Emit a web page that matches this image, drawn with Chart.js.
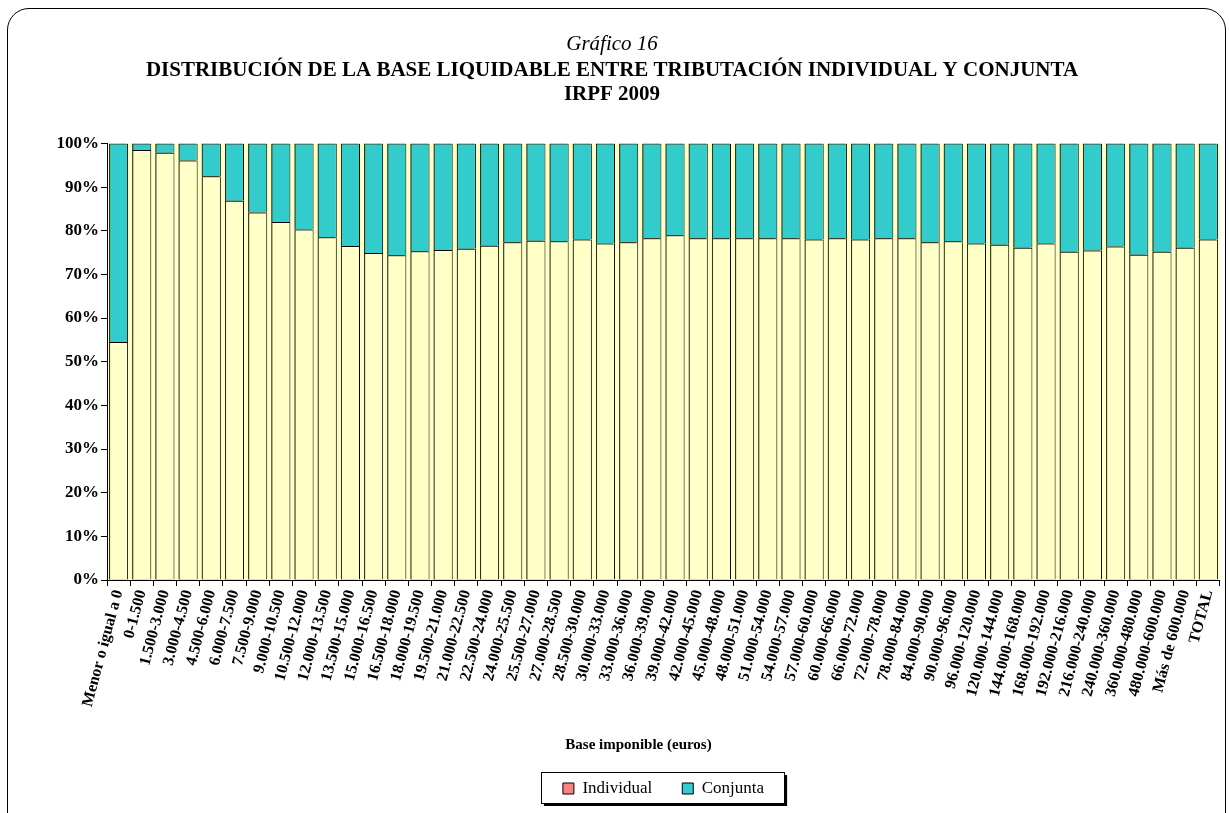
<!DOCTYPE html>
<html>
<head>
<meta charset="utf-8">
<script src="https://cdn.jsdelivr.net/npm/chart.js@4"></script>
<style>
  body { margin: 0; background: #fff; }
  #wrap { position: relative; width: 1229px; height: 813px; overflow: hidden; }
  #frame {
    position: absolute; left: 7px; top: 8px; width: 1219px; height: 840px;
    box-sizing: border-box; border: 1px solid #000; border-radius: 22px;
  }
  #box { position: absolute; left: 0; top: 0; width: 1229px; height: 813px; }
</style>
</head>
<body>
<div id="wrap">
  <div id="frame"></div>
  <div id="box"><canvas id="myChart"></canvas></div>
</div>
<script>
// Tramos de base imponible (euros)
const tramos = [
  "Menor o igual a 0", "0-1.500", "1.500-3.000", "3.000-4.500", "4.500-6.000",
  "6.000-7.500", "7.500-9.000", "9.000-10.500", "10.500-12.000", "12.000-13.500",
  "13.500-15.000", "15.000-16.500", "16.500-18.000", "18.000-19.500", "19.500-21.000",
  "21.000-22.500", "22.500-24.000", "24.000-25.500", "25.500-27.000", "27.000-28.500",
  "28.500-30.000", "30.000-33.000", "33.000-36.000", "36.000-39.000", "39.000-42.000",
  "42.000-45.000", "45.000-48.000", "48.000-51.000", "51.000-54.000", "54.000-57.000",
  "57.000-60.000", "60.000-66.000", "66.000-72.000", "72.000-78.000", "78.000-84.000",
  "84.000-90.000", "90.000-96.000", "96.000-120.000", "120.000-144.000", "144.000-168.000",
  "168.000-192.000", "192.000-216.000", "216.000-240.000", "240.000-360.000", "360.000-480.000",
  "480.000-600.000", "Más de 600.000", "TOTAL"
];

// % de la base liquidable en tributación individual
const individual = [
  54.5, 98.5, 97.9, 96.1, 92.5, 86.9, 84.2, 82.0, 80.3, 78.5,
  76.5, 74.9, 74.4, 75.3, 75.6, 75.9, 76.6, 77.4, 77.7, 77.6,
  78.0, 77.1, 77.4, 78.3, 79.0, 78.3, 78.3, 78.3, 78.3, 78.3,
  78.0, 78.3, 78.0, 78.3, 78.3, 77.4, 77.6, 77.1, 76.8, 76.1,
  77.1, 75.2, 75.5, 76.4, 74.5, 75.2, 76.1, 78.0
];

// % en tributación conjunta
const conjunta = [
  45.5, 1.5, 2.1, 3.9, 7.5, 13.1, 15.8, 18.0, 19.7, 21.5,
  23.5, 25.1, 25.6, 24.7, 24.4, 24.1, 23.4, 22.6, 22.3, 22.4,
  22.0, 22.9, 22.6, 21.7, 21.0, 21.7, 21.7, 21.7, 21.7, 21.7,
  22.0, 21.7, 22.0, 21.7, 21.7, 22.6, 22.4, 22.9, 23.2, 23.9,
  22.9, 24.8, 24.5, 23.6, 25.5, 24.8, 23.9, 22.0
];

const yTicks = [0, 10, 20, 30, 40, 50, 60, 70, 80, 90, 100];
const xTitle = "Base imponible (euros)";

Chart.defaults.font.family = "'Liberation Serif', 'Times New Roman', serif";
Chart.defaults.color = "#000";

// fondo del area de trazado, sombra de las barras, titulo del eje y recuadro de la leyenda
const decor = {
  id: "decor",
  afterLayout(chart) {
    // la leyenda va centrada bajo el area de trazado, no bajo todo el lienzo
    const lg = chart.legend;
    const a = chart.chartArea;
    const shift = (a.left + a.right) / 2 - (lg.left + lg.right) / 2;
    lg.left += shift;
    lg.right += shift;
    lg.legendHitBoxes.forEach((b) => { b.left += shift; });
  },
  beforeDraw(chart) {
    const { ctx, chartArea: a } = chart;
    ctx.save();
    ctx.fillStyle = "#FFFFC8";
    ctx.fillRect(a.left, a.top, a.right - a.left, a.bottom - a.top);

    const boxes = chart.legend.legendHitBoxes;
    if (boxes && boxes.length) {
      const l = Math.min(...boxes.map((b) => b.left)) - 22;
      const r = Math.max(...boxes.map((b) => b.left + b.width)) + 20;
      const t = boxes[0].top - 8;
      const h = boxes[0].height + 14;
      ctx.fillStyle = "#000";
      ctx.fillRect(l + 3, t + 3, r - l, h);
      ctx.fillStyle = "#fff";
      ctx.fillRect(l, t, r - l, h);
      ctx.strokeStyle = "#000";
      ctx.lineWidth = 1;
      ctx.strokeRect(Math.round(l) + 0.5, Math.round(t) + 0.5, Math.round(r - l), Math.round(h));
    }
    ctx.restore();
  },
  beforeDatasetsDraw(chart) {
    const ctx = chart.ctx;
    ctx.save();
    ctx.shadowColor = "rgba(50,50,20,0.9)";
    ctx.shadowOffsetX = -2;
    ctx.shadowOffsetY = 0;
    ctx.shadowBlur = 0;
  },
  afterDatasetsDraw(chart) {
    chart.ctx.restore();
  },
  afterDraw(chart) {
    // titulo del eje X, algo a la izquierda del centro como en el original
    const { ctx, chartArea: a, scales } = chart;
    ctx.save();
    ctx.font = "bold 15px 'Liberation Serif', 'Times New Roman', serif";
    ctx.fillStyle = "#000";
    ctx.textAlign = "center";
    ctx.textBaseline = "middle";
    ctx.fillText(xTitle, (a.left + a.right) / 2 - 25, scales.x.bottom - 5);
    ctx.restore();
  }
};

const ctx = document.getElementById("myChart").getContext("2d");
const myChart = new Chart(ctx, {
  type: "bar",
  data: {
    labels: tramos,
    datasets: [
      {
        label: "Individual",
        data: individual,
        backgroundColor: "#FFFFC8",
        borderColor: "#000",
        borderWidth: 1,
        barPercentage: 0.82,
        categoryPercentage: 1.0
      },
      {
        label: "Conjunta",
        data: conjunta,
        backgroundColor: "#33CCCC",
        borderColor: "#000",
        borderWidth: 1,
        barPercentage: 0.82,
        categoryPercentage: 1.0
      }
    ]
  },
  options: {
    responsive: true,
    maintainAspectRatio: false,
    animation: false,
    layout: { padding: { left: 0, right: 5, top: 0, bottom: 6 } },
    plugins: {
      title: {
        display: true,
        text: "Gráfico 16",
        font: { size: 21, style: "italic", weight: "normal", lineHeight: 1.2 },
        padding: { top: 32, bottom: 1 }
      },
      subtitle: {
        display: true,
        text: [
          "DISTRIBUCIÓN DE LA BASE LIQUIDABLE ENTRE TRIBUTACIÓN INDIVIDUAL Y CONJUNTA",
          "IRPF 2009"
        ],
        color: "#000",
        font: { size: 21, weight: "bold", lineHeight: 1.15 },
        padding: { top: 0, bottom: 37 }
      },
      legend: {
        position: "bottom",
        labels: {
          font: { size: 17 },
          boxWidth: 11,
          boxHeight: 11,
          padding: 30,
          generateLabels: () => [
            { text: "Individual", fillStyle: "#FF8080", strokeStyle: "#000", lineWidth: 1, datasetIndex: 0, hidden: false },
            { text: "Conjunta", fillStyle: "#33CCCC", strokeStyle: "#000", lineWidth: 1, datasetIndex: 1, hidden: false }
          ]
        }
      },
      tooltip: { enabled: false }
    },
    scales: {
      x: {
        stacked: true,
        afterFit: (scale) => { scale.height = 170; },
        grid: { display: true, drawOnChartArea: false, offset: true, tickLength: 6, color: "#000" },
        border: { display: true, color: "#000" },
        ticks: {
          autoSkip: false,
          minRotation: 75,
          maxRotation: 75,
          padding: 2,
          font: { size: 16, weight: "bold" }
        },
        title: { display: false }
      },
      y: {
        stacked: true,
        min: 0,
        max: 100,
        afterFit: (scale) => { scale.width = 107; },
        afterBuildTicks: (scale) => { scale.ticks = yTicks.map((v) => ({ value: v })); },
        grid: { display: true, drawOnChartArea: false, tickLength: 6, color: "#000" },
        border: { display: true, color: "#000" },
        ticks: {
          padding: 2,
          font: { size: 17, weight: "bold" },
          callback: (v) => v + "%"
        }
      }
    }
  },
  plugins: [decor]
});
</script>
</body>
</html>
